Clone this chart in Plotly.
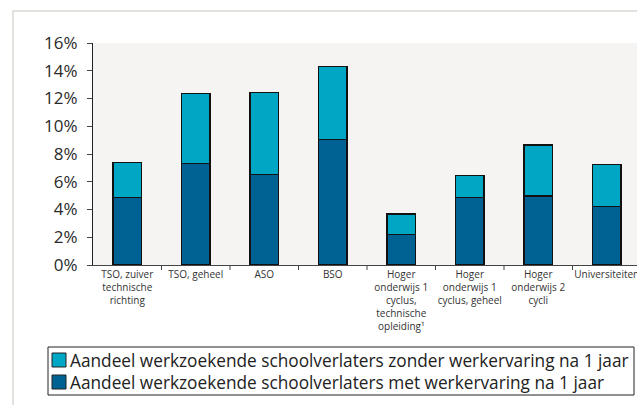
import plotly.graph_objects as go

categories = [
    "TSO, zuiver<br>technische<br>richting",
    "TSO, geheel",
    "ASO",
    "BSO",
    "Hoger<br>onderwijs 1<br>cyclus,<br>technische<br>opleiding¹",
    "Hoger<br>onderwijs 1<br>cyclus, geheel",
    "Hoger<br>onderwijs 2<br>cycli",
    "Universiteiten",
]
met_werkervaring = [4.88, 7.30, 6.53, 9.06, 2.21, 4.88, 4.97, 4.23]
zonder_werkervaring = [2.52, 5.07, 5.89, 5.26, 1.47, 1.56, 3.68, 3.00]
y_ticks = [0, 2, 4, 6, 8, 10, 12, 14, 16]

name_zonder = "Aandeel werkzoekende schoolverlaters zonder werkervaring na 1 jaar"
name_met = "Aandeel werkzoekende schoolverlaters met werkervaring na 1 jaar"
col_met = "#006292"
col_zonder = "#00a7c4"

# figure slightly larger than the window; the overflow is clipped like the reference crop
W, H = 645, 412
L, T = 93, 43
PLOT_RIGHT, PLOT_BOTTOM = 641, 265
R = W - PLOT_RIGHT
B = H - PLOT_BOTTOM
pw = W - L - R
ph = H - T - B
FONT = "Open Sans, sans-serif"

fig = go.Figure()
fig.add_trace(go.Bar(
    x=list(range(len(categories))), y=met_werkervaring, name=name_met,
    marker=dict(color=col_met, line=dict(color="#111111", width=1.5)),
    width=0.41, showlegend=False,
))
fig.add_trace(go.Bar(
    x=list(range(len(categories))), y=zonder_werkervaring, name=name_zonder,
    marker=dict(color=col_zonder, line=dict(color="#111111", width=1.5)),
    width=0.41, showlegend=False,
))


def fx(px):  # page pixel x -> paper
    return (px - L) / pw


def fy(py):  # page pixel y -> paper
    return (H - B - py) / ph


shapes = [
    dict(type="rect", xref="paper", yref="paper",
         x0=fx(13), x1=fx(670), y0=fy(430), y1=fy(11),
         line=dict(color="#e4e1dc", width=2), fillcolor="rgba(0,0,0,0)",
         layer="below"),
    # legend box
    dict(type="rect", xref="paper", yref="paper",
         x0=fx(48), x1=fx(634), y0=fy(395), y1=fy(347),
         line=dict(color="#222222", width=1), fillcolor="white"),
]
shapes += [
    dict(type="line", xref="x", yref="paper",
         x0=i - 0.5, x1=i - 0.5, y0=0, y1=-5 / ph,
         line=dict(color="#444444", width=1))
    for i in range(1, len(categories) + 1)
]

annotations = []
legend_items = [(name_zonder, col_zonder, 360), (name_met, col_met, 382)]
for name, col, cy in legend_items:
    shapes.append(dict(type="rect", xref="paper", yref="paper",
                       x0=fx(52), x1=fx(66), y0=fy(cy + 7), y1=fy(cy - 7),
                       line=dict(color="#222222", width=1), fillcolor=col))
    annotations.append(dict(xref="paper", yref="paper", x=fx(68), y=fy(cy),
                            xanchor="left", yanchor="middle", showarrow=False,
                            text=name, font=dict(size=17.25, color="#222222", family=FONT)))

fig.update_layout(
    width=W, height=H,
    margin=dict(l=L, r=R, t=T, b=B, autoexpand=False),
    barmode="stack",
    paper_bgcolor="white",
    plot_bgcolor="#f5f4f2",
    font=dict(family=FONT, color="#222222"),
    showlegend=False,
    hovermode=False,
    xaxis=dict(
        range=[-0.5, 7.5],
        tickmode="array",
        tickvals=list(range(len(categories))),
        ticktext=categories,
        showgrid=False, zeroline=False,
        showline=True, linecolor="#444444", linewidth=1,
        ticks="", tickangle=0,
        ticklabeloverflow="allow",
        tickfont=dict(size=10, color="#333333"),
    ),
    yaxis=dict(
        range=[0, 16],
        tickvals=y_ticks,
        ticktext=[f"{v}%" for v in y_ticks],
        showgrid=False, zeroline=False,
        showline=True, linecolor="#222222", linewidth=1,
        ticks="outside", ticklen=5, tickcolor="#444444",
        tickfont=dict(size=17, color="#2a2a2a"),
        ticklabelstandoff=6,
    ),
    shapes=shapes,
    annotations=annotations,
)

fig.write_html(
    "out.html",
    config={"displayModeBar": False},
    post_script="document.body.style.margin='0';document.body.style.overflow='hidden';"
                "document.documentElement.style.overflow='hidden';",
)
